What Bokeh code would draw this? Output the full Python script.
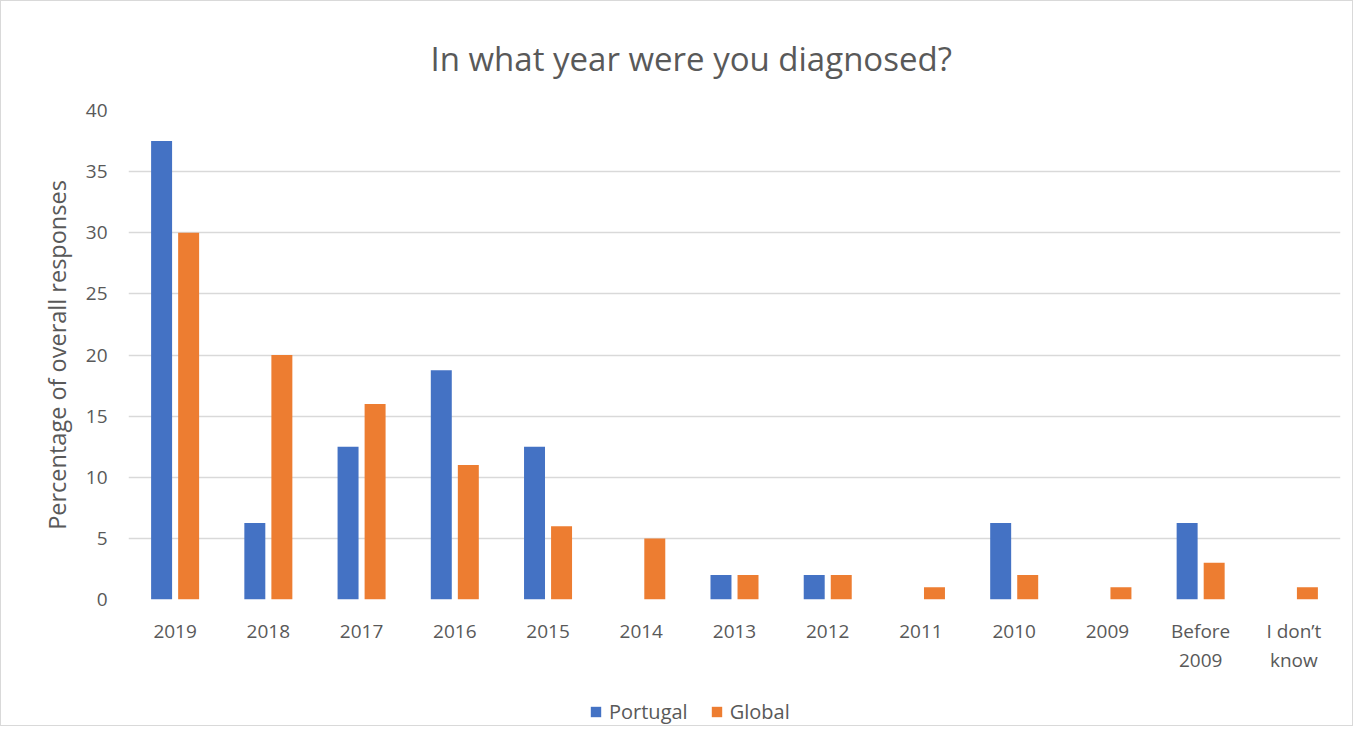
from bokeh.plotting import figure
from bokeh.models import ColumnDataSource, Legend, LegendItem, Range1d, FixedTicker
from bokeh.transform import dodge
from bokeh.layouts import column
from bokeh.embed import file_html
from bokeh.resources import INLINE

categories = ["2019", "2018", "2017", "2016", "2015", "2014", "2013", "2012", "2011",
              "2010", "2009", "Before\n2009", "I don\u2019t\nknow"]
portugal = [37.5, 6.25, 12.5, 18.75, 12.5, 0, 2, 2, 0, 6.25, 0, 6.25, 0]
global_vals = [30, 20, 16, 11, 6, 5, 2, 2, 1, 2, 1, 3, 1]
y_ticks = [0, 5, 10, 15, 20, 25, 30, 35, 40]

FONT = "Open Sans"
TXT = "#595959"
BLUE = "#4472C4"
ORANGE = "#ED7D31"

src = ColumnDataSource(dict(cat=categories, portugal=portugal, glob=global_vals))

p = figure(x_range=categories, y_range=Range1d(0, 40), width=1351, height=680,
           output_backend="svg", toolbar_location=None,
           min_border_left=127, min_border_right=12, min_border_bottom=82, min_border_top=109)

p.title.text = "In what year were you diagnosed?"
p.title.align = "left"
p.title.offset = 302
p.title.text_font = FONT
p.title.text_font_size = "33px"
p.title.text_font_style = "normal"
p.title.text_color = TXT
p.title.standoff = 60

r1 = p.vbar(x=dodge("cat", -0.145, range=p.x_range), top="portugal", width=0.225,
            source=src, fill_color=BLUE, line_color=None)
r2 = p.vbar(x=dodge("cat", 0.145, range=p.x_range), top="glob", width=0.225,
            source=src, fill_color=ORANGE, line_color=None)

p.outline_line_color = None
p.xgrid.grid_line_color = None
p.ygrid.grid_line_color = "#d9d9d9"
p.ygrid.grid_line_width = 1.5
p.yaxis.ticker = FixedTicker(ticks=y_ticks)

for ax in (p.xaxis[0], p.yaxis[0]):
    ax.axis_line_color = None
    ax.major_tick_line_color = None
    ax.minor_tick_line_color = None
    ax.major_tick_out = 0
    ax.major_tick_in = 0
    ax.minor_tick_out = 0
    ax.major_label_text_font = FONT
    ax.major_label_text_font_size = "19px"
    ax.major_label_text_color = TXT
p.xaxis.major_label_standoff = 18
p.xaxis.major_label_text_line_height = 1.15
p.yaxis.major_label_standoff = 21
p.yaxis.axis_label = "Percentage of overall responses"
p.yaxis.axis_label_text_font = FONT
p.yaxis.axis_label_text_font_size = "23.5px"
p.yaxis.axis_label_text_font_style = "normal"
p.yaxis.axis_label_text_color = TXT
p.yaxis.axis_label_standoff = 10

# legend strip below the chart
leg = figure(x_range=p.x_range, y_range=Range1d(100, 101), width=1351, height=44,
             output_backend="svg", toolbar_location=None, min_border=0,
             x_axis_location=None, y_axis_location=None)
leg.grid.visible = False
leg.outline_line_color = None
lr1 = leg.vbar(x=dodge("cat", -0.145, range=leg.x_range), top="portugal", width=0.225,
               source=src, fill_color=BLUE, line_color=None)
lr2 = leg.vbar(x=dodge("cat", 0.145, range=leg.x_range), top="glob", width=0.225,
               source=src, fill_color=ORANGE, line_color=None)
legend = Legend(items=[LegendItem(label="Portugal", renderers=[lr1]),
                       LegendItem(label="Global", renderers=[lr2])],
                orientation="horizontal", location=(461, 0),
                label_text_font=FONT, label_text_font_size="20px", label_text_color=TXT,
                glyph_width=13, glyph_height=13, spacing=22, label_standoff=7,
                border_line_color=None, background_fill_alpha=0, margin=0, padding=0)
leg.add_layout(legend)

layout = column(p, leg, spacing=0)
layout.styles = {"border": "1px solid #d9d9d9", "background-color": "white"}

open("out.html", "w").write(file_html(layout, INLINE))
